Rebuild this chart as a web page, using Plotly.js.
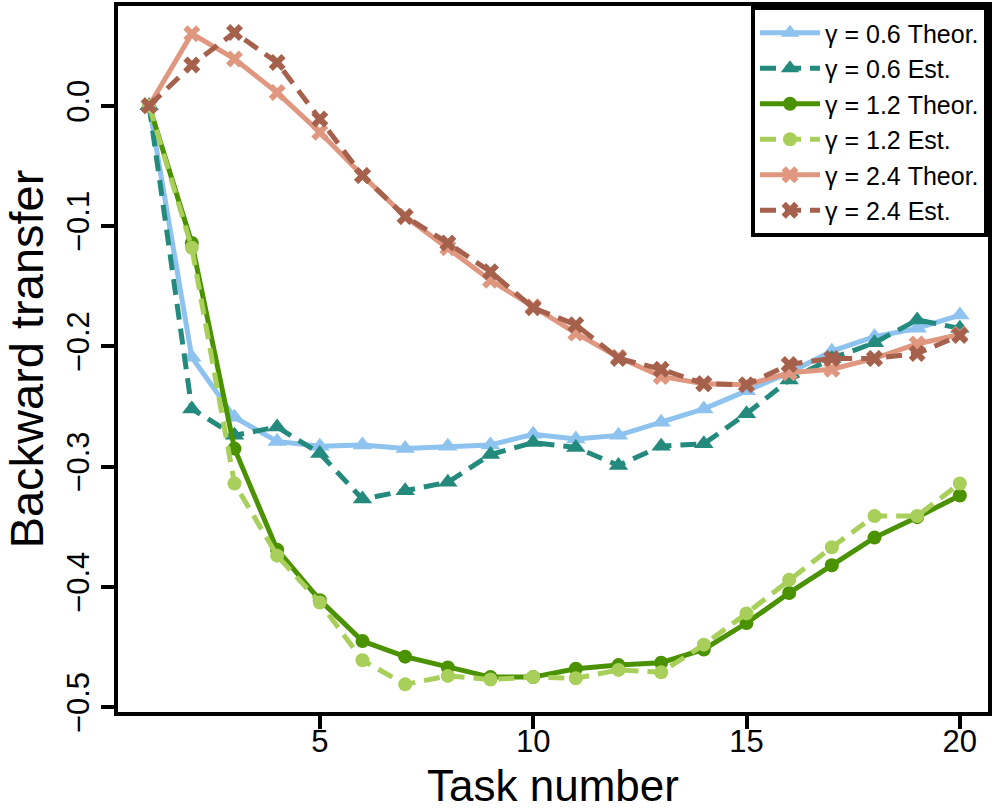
<!DOCTYPE html>
<html>
<head>
<meta charset="utf-8">
<script src="https://cdn.plot.ly/plotly-3.0.1.min.js"></script>
<style>
  html, body { margin: 0; padding: 0; background: #fff; }
  #plot { width: 997px; height: 810px; }
</style>
</head>
<body>
<div id="plot"></div>
<script>
// task numbers 1..20
const tasks = [1, 2, 3, 4, 5, 6, 7, 8, 9, 10, 11, 12, 13, 14, 15, 16, 17, 18, 19, 20];

// backward transfer
const g06Theor = [0, -0.209, -0.259, -0.279, -0.283, -0.282, -0.285, -0.283, -0.282, -0.273,
                  -0.277, -0.274, -0.263, -0.252, -0.237, -0.222, -0.204, -0.192, -0.185, -0.174];
const g06Est   = [0, -0.252, -0.274, -0.267, -0.289, -0.327, -0.320, -0.313, -0.290, -0.280,
                  -0.284, -0.299, -0.283, -0.281, -0.256, -0.228, -0.210, -0.197, -0.178, -0.185];
const g12Theor = [0, -0.114, -0.285, -0.369, -0.411, -0.445, -0.458, -0.467, -0.475, -0.475,
                  -0.468, -0.465, -0.463, -0.452, -0.430, -0.405, -0.382, -0.359, -0.342, -0.324];
const g12Est   = [0, -0.118, -0.314, -0.374, -0.413, -0.461, -0.481, -0.474, -0.477, -0.475,
                  -0.476, -0.469, -0.471, -0.448, -0.422, -0.394, -0.367, -0.341, -0.341, -0.314];
const g24Theor = [0, 0.060, 0.039, 0.011, -0.022, -0.058, -0.092, -0.118, -0.145, -0.167,
                  -0.189, -0.209, -0.225, -0.231, -0.232, -0.222, -0.219, -0.210, -0.198, -0.190];
const g24Est   = [0, 0.034, 0.061, 0.036, -0.011, -0.058, -0.092, -0.114, -0.138, -0.168,
                  -0.182, -0.210, -0.219, -0.231, -0.232, -0.215, -0.210, -0.210, -0.206, -0.191];

const yTicks = [0, -0.1, -0.2, -0.3, -0.4, -0.5];
const xTicks = [5, 10, 15, 20];

const estDash = '16px,9px';

function series(y, name, color, symbol, dash, size) {
    return {
        x: tasks,
        y: y,
        type: 'scatter',
        mode: 'lines+markers',
        name: name,
        line: { color: color, width: 5, dash: dash },
        marker: { color: color, symbol: symbol, size: size }
    };
}

const traces = [
    series(g06Theor, 'γ = 0.6 Theor.', '#8ec2ef', 'triangle-up', 'solid', 17),
    series(g06Est,   'γ = 0.6 Est.',   '#238a7d', 'triangle-up', estDash, 17),
    series(g12Theor, 'γ = 1.2 Theor.', '#4a9200', 'circle', 'solid', 14),
    series(g12Est,   'γ = 1.2 Est.',   '#a8cf5a', 'circle', estDash, 14),
    series(g24Theor, 'γ = 2.4 Theor.', '#e0977f', 'x', 'solid', 15),
    series(g24Est,   'γ = 2.4 Est.',   '#a6614d', 'x', estDash, 15)
];

const axisFont = { family: 'Liberation Sans, Arial, sans-serif', size: 31, color: '#000' };

const layout = {
    width: 997,
    height: 810,
    margin: { l: 118, r: 9, t: 6, b: 98 },
    paper_bgcolor: '#fff',
    plot_bgcolor: '#fff',
    font: { family: 'Liberation Sans, Arial, sans-serif', color: '#000' },
    xaxis: {
        range: [0.27, 20.66],
        tickvals: xTicks,
        ticktext: xTicks.map(String),
        ticks: 'outside', ticklen: 13, tickwidth: 4, tickcolor: '#000',
        ticklabelstandoff: -14,
        showline: true, linewidth: 4, linecolor: '#000', mirror: true,
        showgrid: false, zeroline: false,
        tickfont: axisFont,
        title: { text: 'Task number', font: { size: 44 }, standoff: 20 }
    },
    yaxis: {
        range: [-0.504, 0.083],
        tickvals: yTicks,
        ticktext: yTicks.map(v => v.toFixed(1).replace('-', '\u2212')),
        tickangle: -90,
        ticks: 'outside', ticklen: 13, tickwidth: 4, tickcolor: '#000',
        showline: true, linewidth: 4, linecolor: '#000', mirror: true,
        showgrid: false, zeroline: false,
        tickfont: axisFont,
        title: { text: 'Backward transfer', font: { size: 47 }, standoff: 10 }
    },
    legend: {
        x: 1, xanchor: 'right', y: 1, yanchor: 'top',
        bgcolor: '#fff', bordercolor: '#000', borderwidth: 4,
        font: { size: 25 },
        itemwidth: 60,
        tracegroupgap: 0
    },
    showlegend: true
};

Plotly.newPlot('plot', traces, layout, { displayModeBar: false, staticPlot: true });
</script>
</body>
</html>
